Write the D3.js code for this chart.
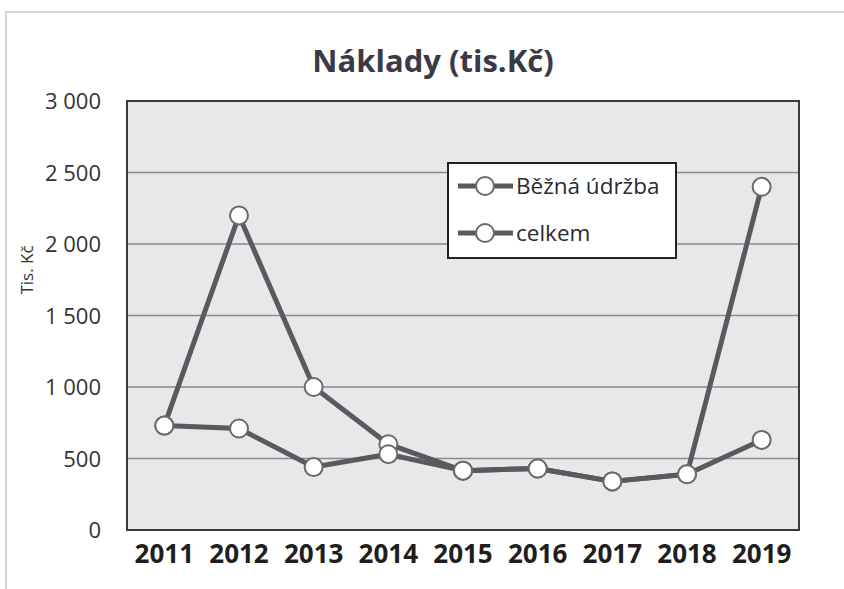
<!DOCTYPE html>
<html>
<head>
<meta charset="utf-8">
<script src="https://cdn.jsdelivr.net/npm/d3@7"></script>
<style>
  html, body { margin: 0; padding: 0; background: #ffffff; }
  svg { display: block; }
</style>
</head>
<body>
<svg id="chart" width="844" height="589"></svg>
<script>
const years = ["2011", "2012", "2013", "2014", "2015", "2016", "2017", "2018", "2019"];
const bezna = [730, 710, 440, 530, 415, 430, 340, 390, 630];
const celkem = [730, 2200, 1000, 600, 415, 430, 340, 390, 2400];
const seriesNames = ["Běžná údržba", "celkem"];
const yTicks = [0, 500, 1000, 1500, 2000, 2500, 3000];
const title = "Náklady (tis.Kč)";
const yTitle = "Tis. Kč";

const svg = d3.select("#chart");
const m = { left: 127, right: 799, top: 101, bottom: 530 };
const font = "'Open Sans', Lato, sans-serif";

// outer chart frame (faint)
svg.append("path")
  .attr("d", "M6,589 L6,12 L844,12")
  .attr("fill", "none").attr("stroke", "#c8c8c8").attr("stroke-width", 1.5);

const x = d3.scaleBand().domain(years).range([m.left, m.right]);
const y = d3.scaleLinear().domain([0, 3000]).range([m.bottom, m.top]);

// plot background
svg.append("rect")
  .attr("x", m.left).attr("y", m.top)
  .attr("width", m.right - m.left).attr("height", m.bottom - m.top)
  .attr("fill", "#e8e8ea");

// gridlines
svg.append("g").selectAll("line").data(yTicks).join("line")
  .attr("x1", m.left).attr("x2", m.right)
  .attr("y1", d => y(d)).attr("y2", d => y(d))
  .attr("stroke", "#8a8a8e").attr("stroke-width", 1.5);

// plot frame
svg.append("rect")
  .attr("x", m.left).attr("y", m.top)
  .attr("width", m.right - m.left).attr("height", m.bottom - m.top)
  .attr("fill", "none").attr("stroke", "#3a3a3a").attr("stroke-width", 2);

// y axis
const yAxis = d3.axisLeft(y).tickValues(yTicks).tickSize(0).tickPadding(0)
  .tickFormat(d => d3.format(",")(d).replace(/,/g, " "));
const gy = svg.append("g").attr("transform", `translate(${m.left - 26},0)`).call(yAxis);
gy.select(".domain").remove();
gy.selectAll("text").attr("font-family", font).attr("font-size", 22)
  .attr("fill", "#333").attr("dy", "0.35em");

// x axis
const xAxis = d3.axisBottom(x).tickSize(0).tickPadding(0);
const gx = svg.append("g").attr("transform", `translate(0,${m.bottom + 15})`).call(xAxis);
gx.select(".domain").remove();
gx.selectAll("text").attr("font-family", font).attr("font-size", 26)
  .attr("font-weight", "bold").attr("fill", "#1e1e1e").attr("dy", "0.71em");

// y title
svg.append("text")
  .attr("transform", `translate(33,270) rotate(-90)`)
  .attr("text-anchor", "middle")
  .attr("font-family", font).attr("font-size", 17).attr("fill", "#333")
  .text(yTitle);

// title
svg.append("text")
  .attr("x", 433).attr("y", 72)
  .attr("text-anchor", "middle")
  .attr("font-family", font).attr("font-size", 31).attr("font-weight", "bold")
  .attr("fill", "#3a3a46")
  .text(title);

const lineColor = "#5a5a5e";
const line = d3.line().x((d, i) => x(years[i]) + x.bandwidth() / 2).y(d => y(d));

[celkem, bezna].forEach(vals => {
  svg.append("path").datum(vals)
    .attr("d", line).attr("fill", "none")
    .attr("stroke", lineColor).attr("stroke-width", 5)
    .attr("stroke-linejoin", "round");
});
[celkem, bezna].forEach(vals => {
  svg.append("g").selectAll("circle").data(vals).join("circle")
    .attr("cx", (d, i) => x(years[i]) + x.bandwidth() / 2)
    .attr("cy", d => y(d))
    .attr("r", 9)
    .attr("fill", "#ffffff").attr("stroke", "#6a6a6e").attr("stroke-width", 2);
});

// legend
const lg = svg.append("g");
lg.append("rect").attr("x", 448).attr("y", 163).attr("width", 228).attr("height", 95)
  .attr("fill", "#ffffff").attr("stroke", "#222").attr("stroke-width", 2);
seriesNames.forEach((name, i) => {
  const cy = 186 + i * 47;
  lg.append("line").attr("x1", 458).attr("x2", 513).attr("y1", cy).attr("y2", cy)
    .attr("stroke", lineColor).attr("stroke-width", 5);
  lg.append("circle").attr("cx", 485).attr("cy", cy).attr("r", 9)
    .attr("fill", "#fff").attr("stroke", "#6a6a6e").attr("stroke-width", 2);
  lg.append("text").attr("x", 516).attr("y", cy).attr("dy", "0.35em")
    .attr("font-family", font).attr("font-size", 22.5).attr("fill", "#2a2a35")
    .text(name);
});
</script>
</body>
</html>
